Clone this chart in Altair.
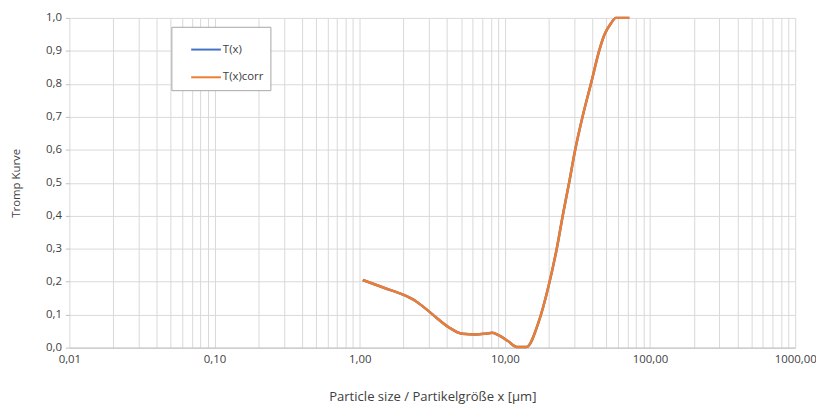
import altair as alt
import pandas as pd

# particle size (µm) and Tromp curve values
size_um = [1.05, 1.5, 2.0, 2.45, 3.0, 3.35, 4.1, 5.1, 6.3, 7.5, 8.2, 9.1, 10.5,
           12.1, 14.1, 17.0, 20.0, 22.7, 25.2, 27.9, 30.2, 34.4, 39.3, 44.8,
           48.4, 53.7, 58.2, 65.0, 72.0]
t_x = [0.205, 0.180, 0.160, 0.140, 0.110, 0.092, 0.062, 0.042, 0.040, 0.043,
       0.045, 0.037, 0.020, 0.002, 0.002, 0.075, 0.187, 0.297, 0.407, 0.507,
       0.590, 0.703, 0.803, 0.903, 0.948, 0.983, 1.000, 1.000, 1.000]
t_x_corr = list(t_x)

series_names = ["T(x)", "T(x)corr"]
series_colors = ["#4472C4", "#ED7D31"]

x_grid = [m * d for d in [0.01, 0.1, 1, 10, 100] for m in range(1, 10)] + [1000]
y_ticks = [round(i * 0.1, 1) for i in range(11)]

df = pd.concat([
    pd.DataFrame({"x": size_um, "y": t_x, "series": series_names[0]}),
    pd.DataFrame({"x": size_um, "y": t_x_corr, "series": series_names[1]}),
])

FONT = "Open Sans"

x_label_expr = (
    "abs(log(datum.value)/LN10 - round(log(datum.value)/LN10)) < 1e-6 ? "
    "replace(format(datum.value, '.2f'), '.', ',') : ''"
)

chart = alt.Chart(df).mark_line(strokeWidth=2.5, interpolate="monotone").encode(
    x=alt.X(
        "x:Q",
        scale=alt.Scale(type="log", domain=[0.01, 1000], nice=False),
        axis=alt.Axis(
            title="Particle size / Partikelgröße x [µm]",
            values=x_grid,
            labelExpr=x_label_expr,
            ticks=False,
            labelPadding=6,
            titlePadding=26,
            titleFontSize=13.2,
            domainColor="#bfbfbf",
            gridColor="#d9d9d9",
            labelOverlap=False,
            labelFlush=False,
        ),
    ),
    y=alt.Y(
        "y:Q",
        scale=alt.Scale(domain=[0, 1], nice=False),
        axis=alt.Axis(
            title="Tromp Kurve",
            values=y_ticks,
            labelExpr="replace(format(datum.value, '.1f'), '.', ',')",
            tickSize=4,
            tickColor="#bfbfbf",
            domain=False,
            labelPadding=4,
            titlePadding=24,
            titleFontSize=11.5,
            gridColor="#d9d9d9",
        ),
    ),
    color=alt.Color(
        "series:N",
        scale=alt.Scale(domain=series_names, range=series_colors),
        legend=alt.Legend(
            title=None,
            orient="none",
            legendX=103,
            legendY=9,
            symbolType="stroke",
            symbolSize=900,
            symbolStrokeWidth=2,
            symbolOffset=12,
            padding=7,
            rowPadding=6,
            labelOffset=1,
            fillColor="white",
            strokeColor="#a6a6a6",
            labelFontSize=11.5,
            labelFont=FONT,
            labelColor="#404040",
        ),
    ),
).properties(
    width=733,
    height=333,
    autosize=alt.AutoSizeParams(type="none"),
    padding={"left": 62, "top": 8, "right": 21, "bottom": 59},
).configure_axis(
    labelFont=FONT,
    titleFont=FONT,
    labelFontSize=11.5,
    titleFontWeight="normal",
    labelColor="#404040",
    titleColor="#404040",
    gridWidth=1,
).configure_view(stroke=None)

chart.save("out.html", embed_options={"renderer": "svg", "actions": False})
